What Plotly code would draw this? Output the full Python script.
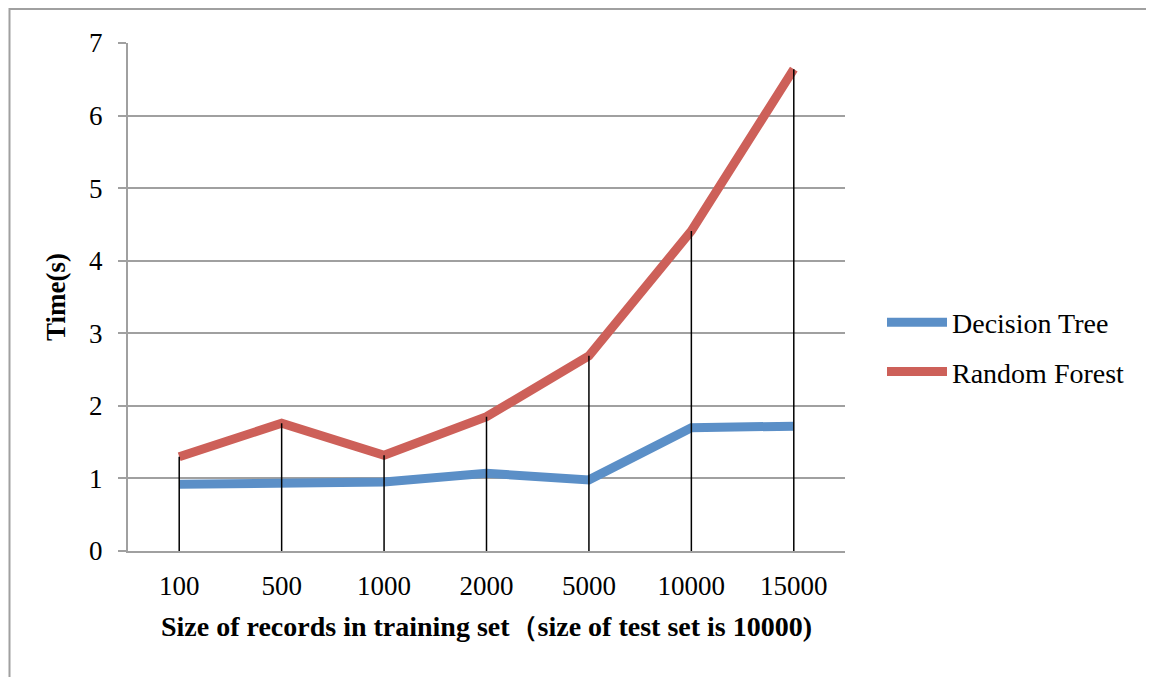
import plotly.graph_objects as go

categories = ["100", "500", "1000", "2000", "5000", "10000", "15000"]
decision_tree = [0.92, 0.94, 0.95, 1.07, 0.98, 1.70, 1.72]
random_forest = [1.30, 1.76, 1.32, 1.85, 2.69, 4.41, 6.64]
y_ticks = [0, 1, 2, 3, 4, 5, 6, 7]

BLUE = "rgb(91,143,199)"
RED = "rgb(205,96,89)"
GRID = "rgb(160,160,160)"
FONT = "Liberation Serif"

fig = go.Figure()
fig.add_trace(go.Scatter(x=categories, y=decision_tree, mode="lines", name="Decision Tree",
                         legendgroup="dt", line=dict(color=BLUE, width=9)))
fig.add_trace(go.Scatter(x=categories, y=random_forest, mode="lines", name="Random Forest",
                         legendgroup="rf", line=dict(color=RED, width=9)))

# drop lines from the highest series point down to the axis
dx, dy = [], []
for c, a, b in zip(categories, decision_tree, random_forest):
    dx += [c, c, None]
    dy += [0, max(a, b), None]
fig.add_trace(go.Scatter(x=dx, y=dy, mode="lines", showlegend=False, hoverinfo="skip",
                         line=dict(color="black", width=1.5)))

W, H = 1146, 669
L, R, T, B = 120, 309, 35, 126
pw, ph = W - L - R, H - T - B

fig.update_layout(
    width=W, height=H,
    margin=dict(l=L, r=R, t=T, b=B),
    paper_bgcolor="white", plot_bgcolor="white",
    font=dict(family=FONT, color="black", size=27),
    xaxis=dict(type="category", range=[-0.5, 6.5], showgrid=False, showline=True,
               linecolor=GRID, linewidth=2, ticks="", tickfont=dict(size=27),
               ticklabelstandoff=10,
               title=dict(text="<b>Size of records in training set（size of test set is 10000)</b>",
                          font=dict(size=28), standoff=16)),
    yaxis=dict(range=[0, 7], tickvals=y_ticks, showgrid=True, gridcolor=GRID, gridwidth=1.5,
               showline=True, linecolor=GRID, linewidth=2, ticks="outside", ticklen=8,
               tickcolor=GRID, tickwidth=1.5, zeroline=False, tickfont=dict(size=27),
               ticklabelstandoff=10,
               title=dict(text="<b>Time(s)</b>", font=dict(size=27), standoff=16)),
    legend=dict(x=(882 - 128) / pw, y=(551 - 347) / ph, xanchor="left", yanchor="middle",
                itemwidth=60, font=dict(size=28), tracegroupgap=10,
                bgcolor="rgba(0,0,0,0)"),
    shapes=[dict(type="rect", xref="paper", yref="paper",
                 x0=(1.5 - L) / pw, x1=(W + 50 - L) / pw, y0=-1.0, y1=(T + ph - 1) / ph,
                 line=dict(color=GRID, width=2), fillcolor="rgba(0,0,0,0)", layer="below")],
)

fig.write_html("out.html")
